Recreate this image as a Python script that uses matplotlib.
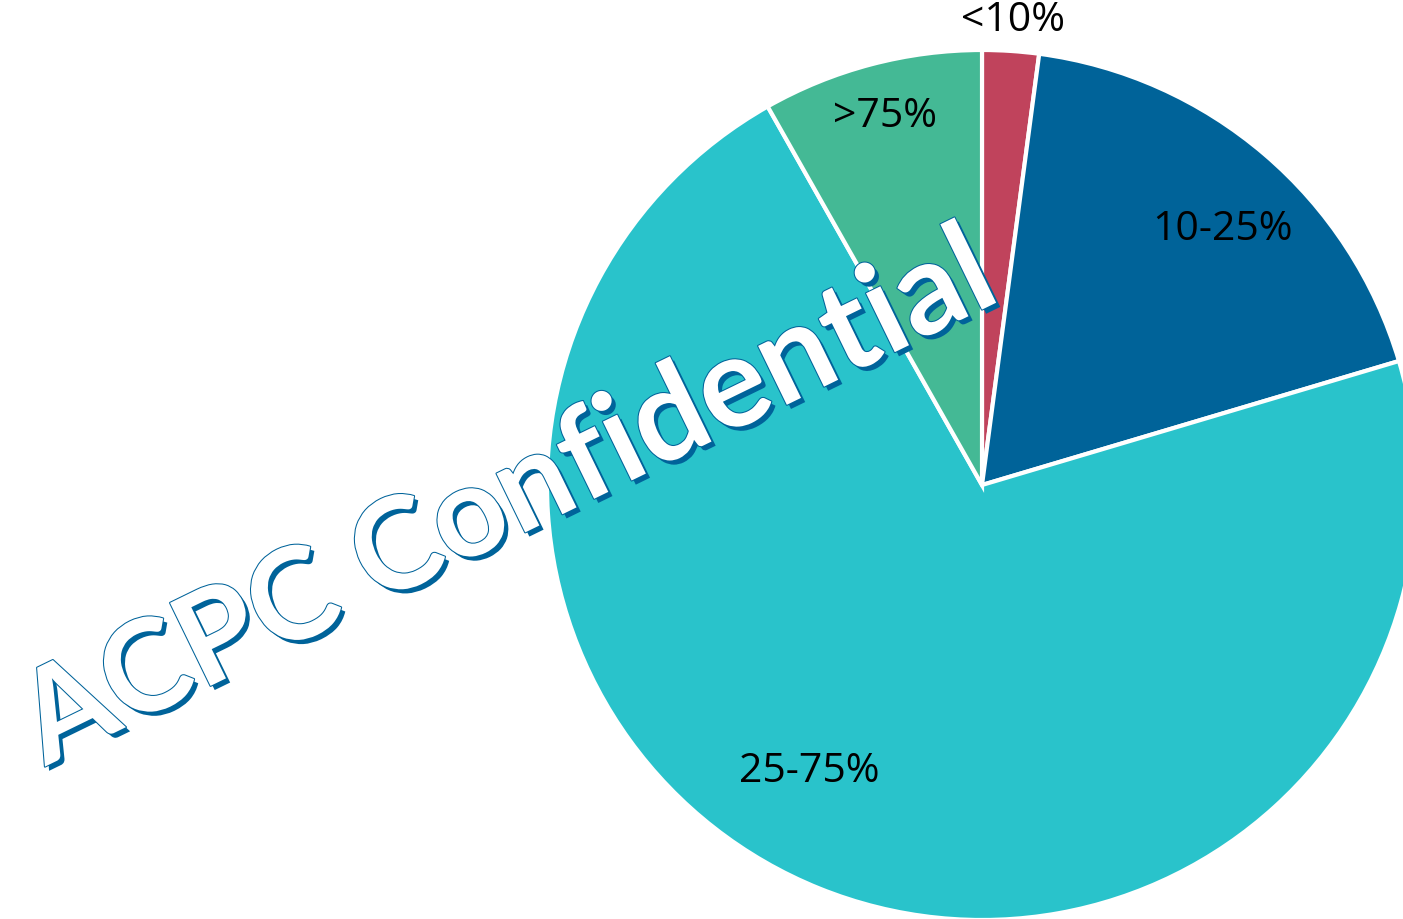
import numpy as np
import matplotlib.pyplot as plt
import matplotlib.patheffects as pe

labels = ['<10%', '10-25%', '25-75%', '>75%']
shares = [2.1, 18.3, 71.4, 8.2]
colors = ['#C0435C', '#006399', '#29C3CB', '#44B995']
label_dist = [1.07, 0.805, 0.77, 0.875]
label_shift = [0, -2.8, -9, 0]  # degrees off the wedge middle

plt.rcParams['font.family'] = ['Open Sans', 'DejaVu Sans']

fig = plt.figure(figsize=(14.03, 9.19), dpi=100)
ax = fig.add_axes([0, 0, 1, 1])

cx, cy, r = 982, 434, 435
wedges, _ = ax.pie(shares, colors=colors, startangle=90, counterclock=False,
                   center=(cx, cy), radius=r, frame=True,
                   wedgeprops=dict(edgecolor='white', linewidth=3))
ax.set_xlim(0, 1403)
ax.set_ylim(0, 919)
ax.set_aspect('equal')
ax.axis('off')

for w, lab, d, s in zip(wedges, labels, label_dist, label_shift):
    ang = np.deg2rad((w.theta1 + w.theta2) / 2 + s)
    ax.text(cx + d * r * np.cos(ang), cy + d * r * np.sin(ang), lab,
            ha='center', va='center', fontsize=29.5, color='black')

# watermark
ax.text(524, 386, 'ACPC Confidential', rotation=26, rotation_mode='anchor',
        ha='center', va='baseline', fontsize=92, fontweight='bold', color='white',
        family=['Lato', 'DejaVu Sans'],
        path_effects=[pe.SimplePatchShadow(offset=(3, -3), shadow_rgbFace='#00639A', alpha=1),
                      pe.Stroke(linewidth=1.5, foreground='#00639A'), pe.Normal()])

fig.savefig('out.png', dpi=100)
